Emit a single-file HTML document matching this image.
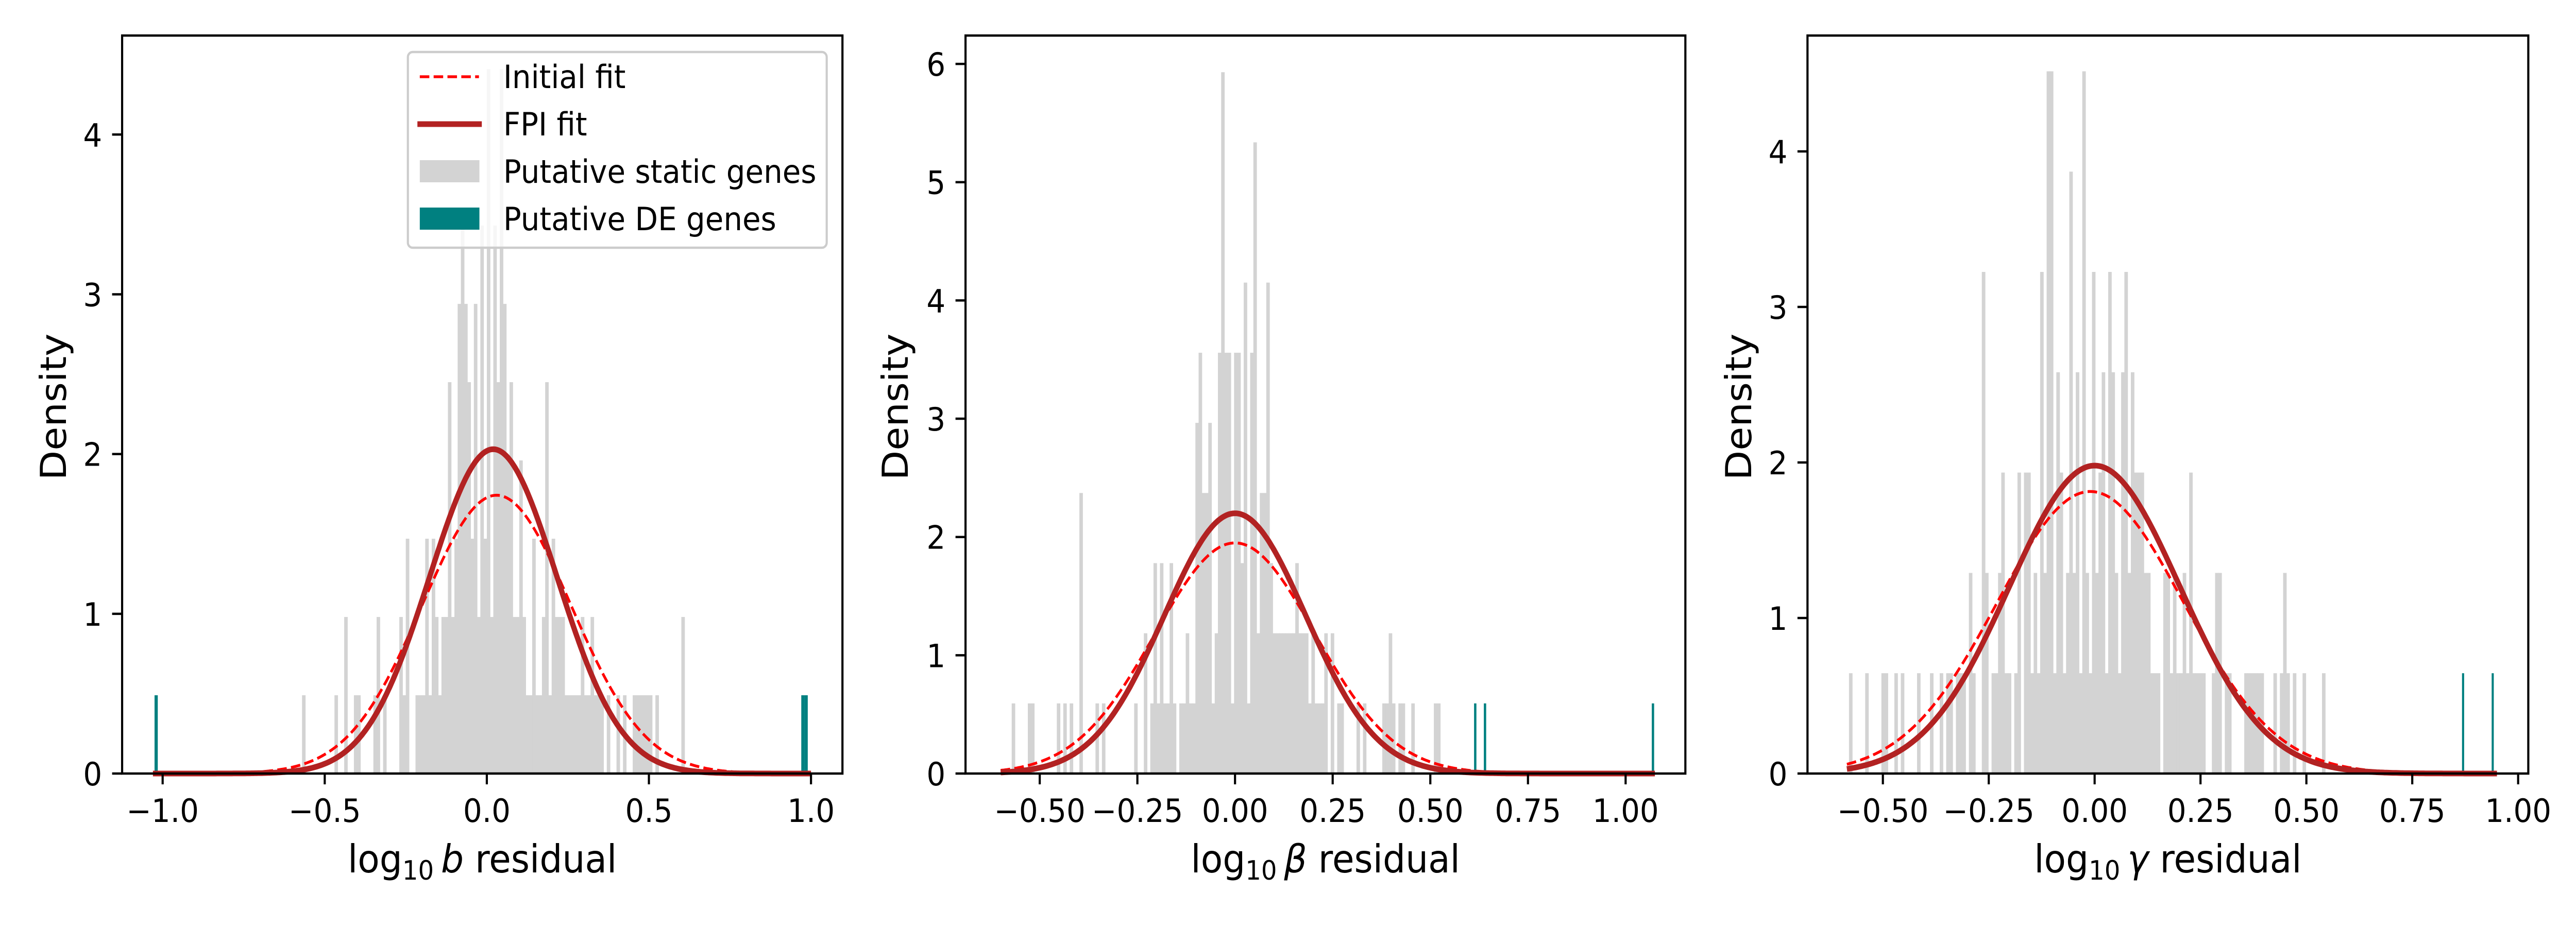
<!DOCTYPE html>
<html><head><meta charset="utf-8">
<style>
html,body{margin:0;padding:0;background:#fff;width:100%;height:100%;overflow:hidden;}
svg{display:block;position:fixed;left:0;top:0;width:100vw;height:100vh;font-family:"DejaVu Sans","Liberation Sans",sans-serif;}
</style></head>
<body>
<svg id="chart" viewBox="0 0 5400 1800" preserveAspectRatio="none" xmlns="http://www.w3.org/2000/svg"></svg>
<script>
// ---------- data ----------
const p1BinStart = -0.57;
const p1BinWidth = 0.01;
const p1Counts = [1,0,0,0,0,0,0,0,0,0, 1,0,0,2,0,0,1,1,0,0, 0,0,1,2,0,1,0,0,0,0, 2,1,3,0,0,1,1,1,3,1, 3,2,1,2,2,5,2,3,6,7, 6,5,3,6,2,7,3,9,2,7, 5,9,6,4,5,2,2,4,2,1, 1,3,1,1,2,5,1,3,2,2, 2,1,1,1,1,1,2,1,1,2, 1,1,1,0,1,0,0,1,0,1, 0,0,1,1,1,1,1,1,0,1, 0,0,0,0,0,0,0,2];
const p1Quantum = 0.49;
const p1DEx = [-1.02, 0.975, 0.985];
const p1DECounts = [1, 1, 1];
const p1DEWidth = 0.01;
const p1Fit = {fpiMean:0.02, fpiSigma:0.1965, initMean:0.03, initSigma:0.229, from:-1.03, to:1.0};

const p2BinStart = -0.58;
const p2BinWidth = 0.00825;
const p2Counts = [0,1,0,0,0,0,1,1,0,0, 0,0,0,0,0,1,0,1,0,1, 0,0,4,0,0,0,0,1,0,1, 0,0,0,0,0,0,0,0,0,1, 0,0,2,0,1,3,1,3,1,1, 3,1,0,1,1,2,1,1,5,6, 4,4,5,1,2,6,10,6,6,1, 6,6,3,7,1,6,9,2,4,4, 7,3,2,2,2,2,2,2,2,3, 2,2,2,1,2,1,1,1,2,0, 2,0,1,1,0,0,0,0,1,0, 1,0,0,0,0,0,1,1,2,1, 0,1,1,0,0,1,0,0,0,0, 0,0,1,1];
const p2Quantum = 0.593;
const p2DEx = [0.615, 0.64, 1.07];
const p2DECounts = [1, 1, 1];
const p2DEWidth = 0.006;
const p2Fit = {fpiMean:0.0, fpiSigma:0.1813, initMean:0.0, initSigma:0.2046, from:-0.6, to:1.075};

const p3BinStart = -0.58;
const p3BinWidth = 0.00765;
const p3Counts = [1,0,0,0,0,1,0,0,0,0, 1,1,0,0,1,0,1,0,0,0, 0,1,0,0,0,1,0,0,1,0, 1,1,0,1,1,1,0,2,1,0, 0,5,2,0,1,1,2,3,1,1, 0,1,3,0,3,3,1,2,1,5, 2,7,7,1,4,3,1,2,6,2, 4,1,7,2,1,5,2,3,4,1, 5,4,2,1,4,5,2,4,3,3, 3,2,2,1,1,1,0,2,2,1, 2,1,1,2,1,3,1,1,1,1, 0,0,1,2,2,0,1,1,0,0, 0,0,1,1,1,1,1,1,0,0, 0,1,0,1,2,1,0,1,0,0, 1,0,0,0,0,0,1];
const p3Quantum = 0.645;
const p3DEx = [0.87, 0.94];
const p3DECounts = [1, 1];
const p3DEWidth = 0.005;
const p3Fit = {fpiMean:0.0, fpiSigma:0.2015, initMean:-0.01, initSigma:0.22, from:-0.585, to:0.95};

const p1XTicks = [-1.0,-0.5,0.0,0.5,1.0];
const p1XTickLabels = ["\u22121.0","\u22120.5","0.0","0.5","1.0"];
const p1YTicks = [0,1,2,3,4];
const p2XTicks = [-0.5,-0.25,0,0.25,0.5,0.75,1.0];
const p2XTickLabels = ["\u22120.50","\u22120.25","0.00","0.25","0.50","0.75","1.00"];
const p2YTicks = [0,1,2,3,4,5,6];
const p3XTicks = [-0.5,-0.25,0,0.25,0.5,0.75,1.0];
const p3XTickLabels = ["\u22120.50","\u22120.25","0.00","0.25","0.50","0.75","1.00"];
const p3YTicks = [0,1,2,3,4];

// ---------- drawing ----------
const NS = "http://www.w3.org/2000/svg";
const svg = document.getElementById('chart');
function mk(tag, attrs, parent){
  const e = document.createElementNS(NS, tag);
  for (const k in attrs) e.setAttribute(k, attrs[k]);
  (parent||svg).appendChild(e);
  return e;
}
function gauss(x,m,s){return Math.exp(-0.5*((x-m)/s)**2)/(s*Math.sqrt(2*Math.PI));}
const TICKFS = 62.5, LABELFS = 75;

function panel(cfg){
  const g = mk('g', {});
  
  
  const L=cfg.left,R=cfg.right,T=69,B=1502;
  const sx = v => L + (v-cfg.xmin)/(cfg.xmax-cfg.xmin)*(R-L);
  const sy = v => B - v/cfg.ymax*(B-T);
  cfg.counts.forEach((c,i)=>{
    if(!c) return;
    const x0 = sx(cfg.binStart + i*cfg.binWidth), x1 = sx(cfg.binStart+(i+1)*cfg.binWidth);
    const r = mk('rect',{x:x0,y:sy(c*cfg.quantum),width:Math.max(x1-x0,1)+0.6,height:B-sy(c*cfg.quantum),fill:'#d3d3d3'},g);
    
    
  });
  cfg.deX.forEach((v,i)=>{
    const x0=sx(v-cfg.deWidth/2), x1=sx(v+cfg.deWidth/2);
    const r = mk('rect',{x:x0,y:sy(cfg.deCounts[i]*cfg.quantum),width:x1-x0,height:B-sy(cfg.deCounts[i]*cfg.quantum),fill:'#008080'},g);
    
    
  });
  const f = cfg.fit;
  let dI='',dF='';
  for(let k=0;k<=400;k++){
    const x=f.from+(f.to-f.from)*k/400;
    dI+=(k?'L':'M')+sx(x).toFixed(1)+','+sy(gauss(x,f.initMean,f.initSigma)).toFixed(1);
    dF+=(k?'L':'M')+sx(x).toFixed(1)+','+sy(gauss(x,f.fpiMean,f.fpiSigma)).toFixed(1);
  }
  const ci = mk('path',{d:dI,fill:'none',stroke:'#ff0000','stroke-width':5.5,'stroke-dasharray':'20,9'},g);
  
  
  const cf = mk('path',{d:dF,fill:'none',stroke:'#b22222','stroke-width':11},g);
  
  
  const fr = mk('rect',{x:L,y:T,width:R-L,height:B-T,fill:'none',stroke:'#000','stroke-width':4.5},g);
  
  
  cfg.xticks.forEach((v,i)=>{
    const x=sx(v);
    mk('line',{x1:x,y1:B,x2:x,y2:B+21,stroke:'#000','stroke-width':4.5},g);
    const t=mk('text',{x:x,y:1596,'font-size':TICKFS,'text-anchor':'middle'},g);
    t.textContent=cfg.xlabels[i];
    
    
  });
  cfg.yticks.forEach(v=>{
    const y=sy(v);
    mk('line',{x1:L,y1:y,x2:L-21,y2:y,stroke:'#000','stroke-width':4.5},g);
    const t=mk('text',{x:L-42,y:y+23,'font-size':TICKFS,'text-anchor':'end'},g);
    t.textContent=String(v);
    
    
  });
  const yl=mk('text',{x:0,y:0,'font-size':LABELFS,'text-anchor':'middle',transform:`translate(${cfg.ylabX},790) rotate(-90)`},g);
  yl.textContent='Density';
  
  
  const xl=mk('text',{x:(L+R)/2,y:1694,'font-size':LABELFS,'text-anchor':'middle'},g);
  
  
  const a=mk('tspan',{},xl); a.textContent='log';
  const b=mk('tspan',{'font-size':52,dy:14},xl); b.textContent='10';
  const c=mk('tspan',{dy:-14,'font-style':'italic'},xl); c.textContent='\u2009'+cfg.sym;
  const d=mk('tspan',{},xl); d.textContent=' residual';
}

panel({name:'panel-b',left:256,right:1766,xmin:-1.125,xmax:1.097,ymax:4.62,binStart:p1BinStart,binWidth:p1BinWidth,counts:p1Counts,quantum:p1Quantum,deX:p1DEx,deCounts:p1DECounts,deWidth:p1DEWidth,fit:p1Fit,xticks:p1XTicks,xlabels:p1XTickLabels,yticks:p1YTicks,ylabX:138,sym:'b'});
panel({name:'panel-beta',left:2024,right:3533,xmin:-0.690,xmax:1.153,ymax:6.24,binStart:p2BinStart,binWidth:p2BinWidth,counts:p2Counts,quantum:p2Quantum,deX:p2DEx,deCounts:p2DECounts,deWidth:p2DEWidth,fit:p2Fit,xticks:p2XTicks,xlabels:p2XTickLabels,yticks:p2YTicks,ylabX:1903,sym:'\u03b2'});
panel({name:'panel-gamma',left:3789,right:5300,xmin:-0.678,xmax:1.024,ymax:4.745,binStart:p3BinStart,binWidth:p3BinWidth,counts:p3Counts,quantum:p3Quantum,deX:p3DEx,deCounts:p3DECounts,deWidth:p3DEWidth,fit:p3Fit,xticks:p3XTicks,xlabels:p3XTickLabels,yticks:p3YTicks,ylabX:3671,sym:'\u03b3'});

const lg = mk('g',{});


mk('rect',{x:855,y:101,width:878,height:380,rx:10,fill:'#fff','fill-opacity':0.8,stroke:'#cccccc','stroke-width':4.5},lg);
mk('line',{x1:880,y1:149,x2:1004,y2:149,stroke:'#ff0000','stroke-width':5.5,'stroke-dasharray':'20,9'},lg);
mk('line',{x1:875,y1:241,x2:1010,y2:241,stroke:'#b22222','stroke-width':11},lg);
mk('rect',{x:880,y:311,width:125,height:43,fill:'#d3d3d3'},lg);
mk('rect',{x:880,y:403,width:125,height:43,fill:'#008080'},lg);
const labels=['Initial fit','FPI fit','Putative static genes','Putative DE genes'];
const names=['legend-initial-fit','legend-fpi-fit','legend-static-genes','legend-de-genes'];
labels.forEach((s,i)=>{
  const t=mk('text',{x:1055,y:171+i*92,'font-size':TICKFS},lg);
  t.textContent=s;
  
  
});
</script>
</body></html>
